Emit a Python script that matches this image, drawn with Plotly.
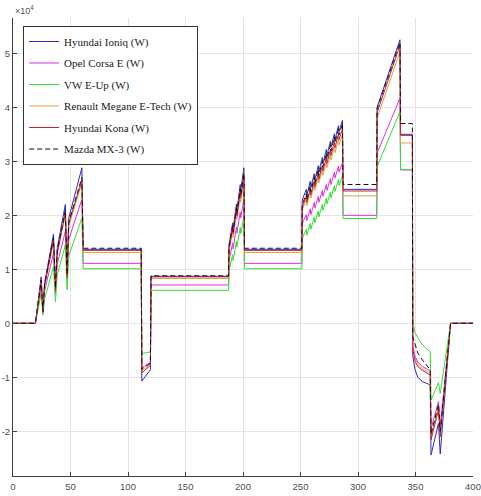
import plotly.graph_objects as go

# time axis (s)
t = [0, 19.5, 24.5, 26, 27.5, 35.2, 36.9, 38.5, 45.5, 47, 48.5, 59.9, 61,
     111.5, 112, 119.5, 120,
     187.5, 187.8, 191, 191.4, 194.3, 194.7, 197.6, 198.0, 200.8, 201.3,
     251.2, 251.5,
     255, 255.5, 258.5, 259, 262, 262.5, 265.5, 266, 269, 269.5, 272.5, 273,
     276, 276.5, 279.5, 280, 283, 283.5,
     286.5, 287, 316.3, 316.6, 336.5, 337, 347.3, 347.6,
     349.5, 352, 356, 362.8, 363.5, 370, 371.5, 380.5, 400]

# power values, in units of 10^4 W
ioniq = [0, 0, 0.86, 0.25, 0.75, 1.65, 0.70, 1.40, 2.20, 0.95, 1.95, 2.88, 1.37,
         1.37, -1.07, -0.86, 0.87,
         0.87, 1.45, 1.86, 1.75, 2.21, 2.10, 2.57, 2.46, 2.88, 1.37,
         1.37, 2.28,
         2.48, 2.37, 2.63, 2.52, 2.77, 2.66, 2.92, 2.81, 3.07, 2.96, 3.22, 3.11,
         3.37, 3.26, 3.51, 3.40, 3.66, 3.55,
         3.76, 2.48, 2.48, 4.00, 5.25, 3.50, 3.50, -0.60,
         -0.85, -1.00, -1.08, -1.14, -2.44, -1.85, -2.42, 0, 0]

opel = [0, 0, 0.65, 0.20, 0.60, 1.30, 0.55, 1.10, 1.70, 0.80, 1.55, 2.30, 1.11,
        1.11, -0.83, -0.72, 0.71,
        0.71, 1.15, 1.49, 1.38, 1.78, 1.67, 2.06, 1.95, 2.30, 1.11,
        1.11, 1.85,
        2.01, 1.90, 2.12, 2.01, 2.24, 2.13, 2.35, 2.24, 2.46, 2.35, 2.57, 2.46,
        2.68, 2.57, 2.80, 2.69, 2.91, 2.80,
        2.97, 2.00, 2.00, 3.15, 4.17, 2.84, 2.84, -0.40,
        -0.60, -0.72, -0.80, -0.88, -1.95, -1.45, -1.90, 0, 0]

vw = [0, 0, 0.55, 0.15, 0.45, 1.05, 0.40, 0.90, 1.45, 0.62, 1.25, 1.95, 1.01,
      1.01, -0.56, -0.53, 0.61,
      0.61, 0.97, 1.27, 1.16, 1.52, 1.41, 1.77, 1.66, 1.97, 1.01,
      1.01, 1.57,
      1.74, 1.63, 1.85, 1.74, 1.97, 1.86, 2.08, 1.97, 2.20, 2.09, 2.32, 2.21,
      2.43, 2.32, 2.55, 2.44, 2.66, 2.55,
      2.73, 1.94, 1.94, 2.90, 3.92, 2.85, 2.85, 0.02,
      -0.17, -0.27, -0.40, -0.53, -1.42, -1.10, -1.30, 0, 0]

renault = [0, 0, 0.75, 0.20, 0.70, 1.50, 0.60, 1.30, 2.00, 0.85, 1.80, 2.60, 1.31,
           1.31, -0.88, -0.76, 0.83,
           0.83, 1.32, 1.70, 1.59, 2.03, 1.92, 2.35, 2.24, 2.63, 1.31,
           1.31, 2.10,
           2.29, 2.18, 2.43, 2.32, 2.57, 2.46, 2.71, 2.60, 2.85, 2.74, 2.99, 2.88,
           3.13, 3.02, 3.27, 3.16, 3.41, 3.30,
           3.50, 2.36, 2.36, 3.80, 5.03, 3.34, 3.34, -0.45,
           -0.65, -0.76, -0.84, -0.92, -2.10, -1.55, -2.00, 0, 0]

kona = [0, 0, 0.78, 0.20, 0.70, 1.55, 0.60, 1.30, 2.05, 0.85, 1.85, 2.65, 1.35,
        1.35, -0.92, -0.78, 0.86,
        0.86, 1.38, 1.77, 1.66, 2.10, 1.99, 2.44, 2.33, 2.72, 1.35,
        1.35, 2.15,
        2.35, 2.24, 2.49, 2.38, 2.64, 2.53, 2.78, 2.67, 2.93, 2.82, 3.07, 2.96,
        3.22, 3.11, 3.36, 3.25, 3.51, 3.40,
        3.60, 2.45, 2.45, 3.90, 5.15, 3.48, 3.48, -0.45,
        -0.70, -0.80, -0.87, -0.96, -2.16, -1.60, -2.10, 0, 0]

mazda = [0, 0, 0.80, 0.22, 0.72, 1.58, 0.65, 1.35, 2.10, 0.90, 1.88, 2.70, 1.39,
         1.39, -0.85, -0.74, 0.88,
         0.88, 1.40, 1.80, 1.69, 2.14, 2.03, 2.49, 2.38, 2.78, 1.39,
         1.39, 2.20,
         2.40, 2.29, 2.55, 2.44, 2.70, 2.59, 2.85, 2.74, 3.00, 2.89, 3.15, 3.04,
         3.30, 3.19, 3.45, 3.34, 3.60, 3.49,
         3.70, 2.57, 2.57, 3.97, 5.20, 3.70, 3.70, -0.25,
         -0.40, -0.55, -0.68, -0.86, -2.05, -1.50, -2.00, 0, 0]

names = ["Hyundai Ioniq (W)", "Opel Corsa E (W)", "VW E-Up (W)",
         "Renault Megane E-Tech (W)", "Hyundai Kona (W)", "Mazda MX-3 (W)"]

x_ticks = [0, 50, 100, 150, 200, 250, 300, 350, 400]
y_ticks = [-2, -1, 0, 1, 2, 3, 4, 5]
y_tick_labels = ["-2", "-1", "0", "1", "2", "3", "4", "5"]

styles = [
    ("#2b2bc0", "solid"),
    ("#e030e0", "solid"),
    ("#30e030", "solid"),
    ("#e0a048", "solid"),
    ("#c82030", "solid"),
    ("#111111", "5px,3px"),
]

fig = go.Figure()
for name, vals, (col, dash) in zip(names, [ioniq, opel, vw, renault, kona, mazda], styles):
    fig.add_trace(go.Scatter(x=t, y=vals, mode="lines", name=name, legendgroup=name,
                             line=dict(color=col, width=1, dash=dash)))

axis_common = dict(showline=True, linecolor="#404040", linewidth=1,
                   ticks="inside", ticklen=4, tickcolor="#404040",
                   showgrid=True, gridcolor="#e4e4e4", gridwidth=1,
                   zeroline=False, ticklabeloverflow="allow", automargin=False,
                   tickfont=dict(family="Liberation Sans", size=9.5, color="#505050"))

fig.update_layout(
    width=481, height=496,
    margin=dict(l=13, r=8, t=18, b=20),
    paper_bgcolor="white", plot_bgcolor="white",
    xaxis=dict(range=[0, 400], tickvals=x_ticks, ticklabelstandoff=2, **axis_common),
    yaxis=dict(range=[-2.828, 5.654], tickvals=y_ticks, ticktext=y_tick_labels,
               ticklabelstandoff=0, **axis_common),
    legend=dict(x=0.022, y=0.9825, xanchor="left", yanchor="top",
                bgcolor="white", bordercolor="#333333", borderwidth=1,
                font=dict(family="Liberation Serif", size=11, color="#222222"),
                itemwidth=30, tracegroupgap=2.5),
    annotations=[dict(text="×10<sup>4</sup>", x=0, y=1, xref="paper", yref="paper",
                      xanchor="left", yanchor="bottom", showarrow=False,
                      font=dict(family="Liberation Sans", size=9, color="#505050"))],
    showlegend=True,
)

fig.write_html("out.html")
